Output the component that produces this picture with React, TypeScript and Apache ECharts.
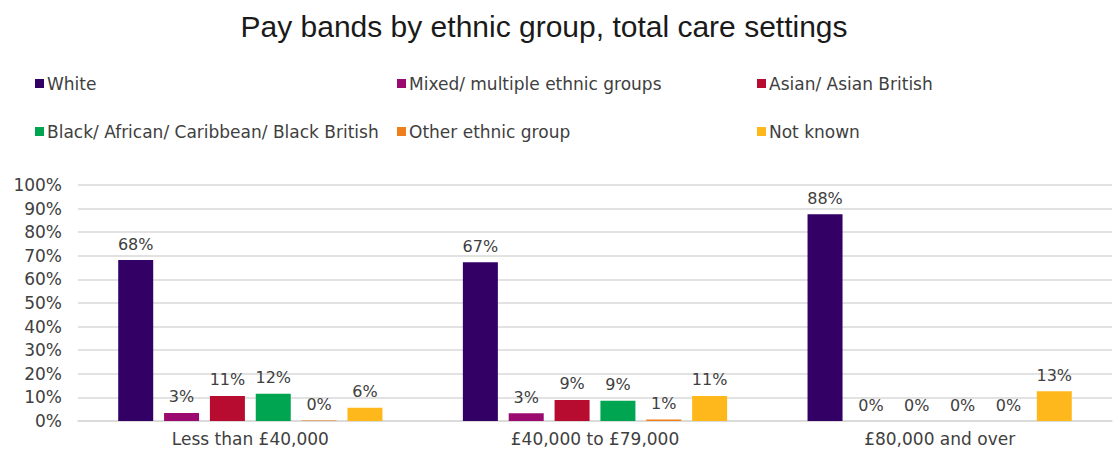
import React, { useEffect, useRef } from "react";
import * as echarts from "echarts";

const categories = ["Less than £40,000", "£40,000 to £79,000", "£80,000 and over"];
const seriesNames = [
  "White",
  "Mixed/ multiple ethnic groups",
  "Asian/ Asian British",
  "Black/ African/ Caribbean/ Black British",
  "Other ethnic group",
  "Not known",
];
const white = [68.2, 67.3, 87.6];
const mixed = [3.4, 3.3, 0];
const asian = [10.6, 8.9, 0];
const black = [11.5, 8.6, 0];
const other = [0.2, 0.6, 0];
const notKnown = [5.6, 10.6, 12.6];
const seriesValues = [white, mixed, asian, black, other, notKnown];
const colors = ["#330066", "#9b0a6e", "#b70c2f", "#00a551", "#f07f1b", "#ffb81c"];
const yTicks = [0, 10, 20, 30, 40, 50, 60, 70, 80, 90, 100];

const FONT = "'DejaVu Sans', sans-serif";
const TITLE_FONT = "'Liberation Sans', Arial, sans-serif";

export default function App() {
  const ref = useRef<HTMLDivElement>(null);
  useEffect(() => {
    if (!ref.current) return;
    const chart = echarts.init(ref.current, undefined, { renderer: "svg" });
    const legendCols = [0, 1, 2].map((c) => ({
      orient: "vertical",
      left: [30, 392, 752][c],
      top: 70,
      itemWidth: 9,
      itemHeight: 9,
      itemGap: 31,
      icon: "rect",
      selectedMode: false,
      data: [seriesNames[c], seriesNames[c + 3]],
      textStyle: { fontFamily: FONT, fontSize: 17, color: "#404040", padding: [0, 0, 0, -2] },
    }));
    chart.setOption({
      animation: false,
      color: colors,
      title: {
        text: "Pay bands by ethnic group, total care settings",
        left: 539,
        textAlign: "center",
        top: 6,
        textStyle: { fontFamily: TITLE_FONT, fontSize: 30, fontWeight: "normal", color: "#1a1a1a" },
      },
      legend: legendCols,
      grid: { left: 78, right: 8, top: 185, bottom: 33, containLabel: false },
      xAxis: {
        type: "category",
        data: categories,
        axisTick: { show: false },
        axisLine: { show: true, lineStyle: { color: "#d9d9d9", width: 1.5 } },
        axisLabel: { fontFamily: FONT, fontSize: 17, color: "#404040", margin: 9 },
      },
      yAxis: {
        type: "value",
        min: 0,
        max: 100,
        interval: 10,
        axisLine: { show: false },
        axisTick: { show: false },
        splitLine: { lineStyle: { color: "#d9d9d9", width: 1.5 } },
        axisLabel: {
          fontFamily: FONT,
          fontSize: 17,
          color: "#404040",
          margin: 16,
          formatter: (v: number) => (yTicks.includes(v) ? v + "%" : ""),
        },
      },
      series: seriesNames.map((name, i) => ({
        name,
        type: "bar",
        data: seriesValues[i],
        barWidth: 35,
        barGap: "31%",
        itemStyle: { color: colors[i] },
        label: {
          show: true,
          position: "top",
          distance: 8,
          fontFamily: FONT,
          fontSize: 16,
          color: "#404040",
          formatter: (p: any) => Math.round(p.value) + "%",
        },
      })),
    });
    return () => chart.dispose();
  }, []);
  return (
    <div
      ref={ref}
      style={{ position: "absolute", left: 0, top: 0, width: 1120, height: 454, background: "#fff" }}
    />
  );
}
